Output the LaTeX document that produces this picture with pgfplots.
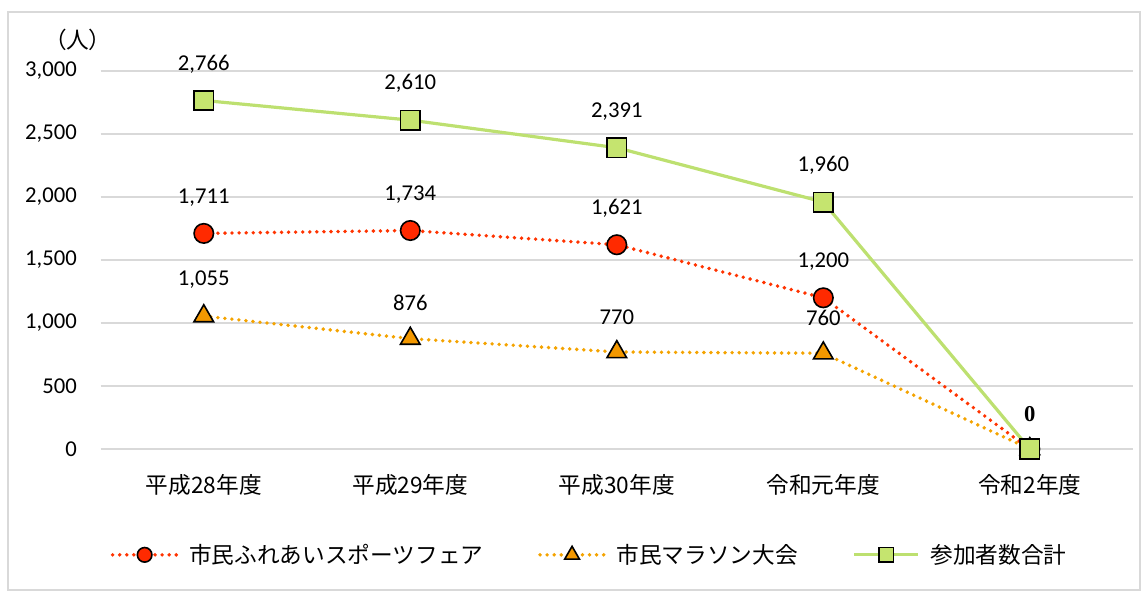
\documentclass[border=0pt]{standalone}
\usepackage{fontspec}
\usepackage{pgfplots}
\pgfplotsset{compat=1.18}
\setmainfont{Noto Sans CJK JP}
\newfontfamily\numfont{Carlito}
\newfontfamily\cjkp[RawFeature=+palt]{Noto Sans CJK JP}
\newfontfamily\zerofont{Liberation Serif}
\newcommand\fs{\fontsize{17}{20}\selectfont}
\definecolor{redline}{HTML}{FF3300}
\definecolor{redfill}{HTML}{FF2A00}
\definecolor{orline}{HTML}{F4A300}
\definecolor{orfill}{HTML}{F39800}
\definecolor{grline}{HTML}{BDE070}
\definecolor{grfill}{HTML}{C5E46F}
\definecolor{gridc}{HTML}{D9D9D9}
\begin{document}
\begin{tikzpicture}
\path (-75.4pt,-106.5pt) rectangle (781.1pt,336.75pt);
\draw[color=gridc, line width=1.5pt] (-69.4pt,-105.75pt) rectangle (779.6pt,327.75pt);
\begin{axis}[
  at={(0pt,0pt)}, anchor=south west,
  scale only axis, width=774.4pt, height=283.5pt,
  xmin=-0.5, xmax=4.5, ymin=0, ymax=3000,
  clip=false,
  axis line style={draw=none},
  major tick length=0pt,
  ymajorgrids, grid style={color=gridc, line width=1.3pt},
  ytick={0,500,...,3000},
  yticklabels={0,500,{1,000},{1,500},{2,000},{2,500},{3,000}},
  yticklabel style={font=\numfont\fs, anchor=east, inner sep=0pt, xshift=-17.6pt},
  xtick={0,1,2,3,4},
  xticklabels={平成28年度,平成29年度,平成30年度,令和元年度,令和2年度},
  xticklabel style={font=\fs, anchor=center, inner sep=0pt, yshift=-27pt},
  point meta=explicit symbolic,
  nodes near coords={\pgfplotspointmeta},
  every node near coord/.append style={font=\numfont\fs, text=black, inner sep=0pt, yshift=20pt},
  legend style={at={(0.474,-0.28)}, anchor=center, draw=none, fill=none, font=\fs,
    /tikz/every odd column/.append style={column sep=6pt},
    /tikz/every even column/.append style={column sep=39pt}, cells={anchor=west}},
  legend columns=3,
  legend image code/.code={\draw[mark repeat=2,mark phase=2,every mark/.append style={scale=0.75},#1] plot coordinates {(0pt,0pt) (24pt,0pt) (48pt,0pt)};},
]
\addplot[color=redline, line width=2.9pt, dash pattern=on 0pt off 5.3pt, line cap=round,
  mark=*, mark size=7.3pt, mark options={solid, fill=redfill, draw=black, line width=1.2pt}]
  coordinates {(0,1711)[1,711] (1,1734)[1,734] (2,1621)[1,621] (3,1200)[1,200] (4,0)[{}]};
\addlegendentry{市民ふれあいスポーツフェア}
\addplot[color=orline, line width=2.9pt, dash pattern=on 0pt off 5.3pt, line cap=round,
  mark=triangle*, mark size=8.5pt, mark options={solid, fill=orfill, draw=black, line width=1.2pt}]
  coordinates {(0,1055)[1,055] (1,876)[876] (2,770)[770] (3,760)[760] (4,0)[{}]};
\addlegendentry{市民マラソン大会}
\addplot[color=grline, line width=2.4pt,
  mark=square*, mark size=7.3pt, mark options={solid, fill=grfill, draw=black, line width=1.2pt}]
  coordinates {(0,2766)[2,766] (1,2610)[2,610] (2,2391)[2,391] (3,1960)[1,960] (4,0)[{\zerofont\bfseries 0}]};
\addlegendentry{参加者数合計}
\node[font=\cjkp\fs] at (rel axis cs:0,1) [xshift=-17pt, yshift=23pt] {（人）};
\end{axis}
\end{tikzpicture}
\end{document}
